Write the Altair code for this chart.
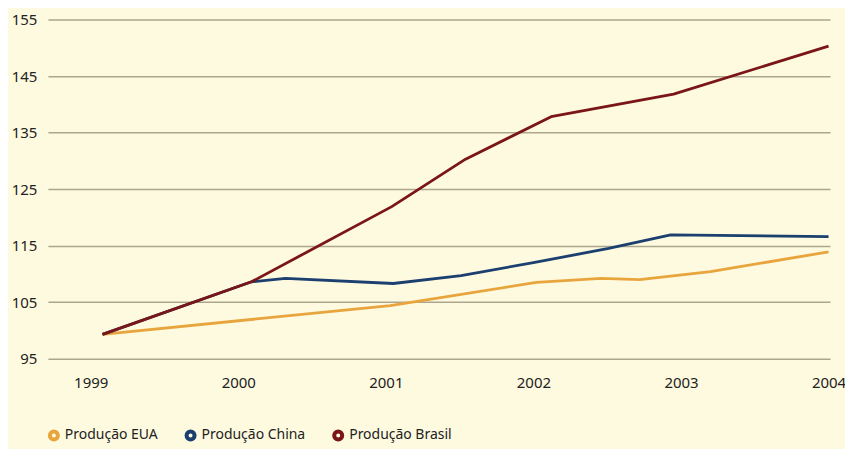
import altair as alt
import pandas as pd

series_names = ["Produção EUA", "Produção China", "Produção Brasil"]
line_colors = ["#E8A53E", "#1B3F6F", "#7A1518"]

eua_t = [1999.08, 2001.03, 2002.02, 2002.46, 2002.72, 2003.20, 2004.0]
eua_v = [99.3, 104.4, 108.5, 109.2, 109.0, 110.4, 113.9]

china_t = [1999.08, 2000.09, 2000.32, 2001.05, 2001.51, 2002.00, 2002.51, 2002.93, 2004.0]
china_v = [99.3, 108.6, 109.2, 108.3, 109.7, 112.0, 114.5, 116.9, 116.6]

brasil_t = [1999.08, 2000.09, 2001.04, 2001.54, 2002.12, 2002.95, 2004.0]
brasil_v = [99.3, 108.6, 121.9, 130.3, 137.8, 141.8, 150.3]

year_ticks = [1999, 2000, 2001, 2002, 2003, 2004]
y_ticks = [95, 105, 115, 125, 135, 145, 155]

rows = []
for name, ts, vs in [(series_names[0], eua_t, eua_v),
                     (series_names[1], china_t, china_v),
                     (series_names[2], brasil_t, brasil_v)]:
    for t, v in zip(ts, vs):
        rows.append({"serie": name, "t": t, "v": v})
df = pd.DataFrame(rows)

FONT = "Noto Sans"

chart = alt.Chart(df).mark_line(strokeWidth=2.8, strokeJoin="round").encode(
    x=alt.X("t:Q", scale=alt.Scale(domain=[1998.71, 2004.01], nice=False, zero=False),
            axis=alt.Axis(values=year_ticks, format="d", title=None, domain=False, ticks=False,
                          grid=False, labelFont=FONT, labelFontSize=15, labelColor="#222222",
                          labelPadding=17, labelFlush=False, labelOverlap=False, labelBound=False)),
    y=alt.Y("v:Q", scale=alt.Scale(domain=[95, 155], nice=False, zero=False),
            axis=alt.Axis(values=y_ticks, title=None, domain=False, ticks=False,
                          grid=True, gridColor="#aca68e", gridWidth=1.5,
                          labelFont=FONT, labelFontSize=15, labelColor="#222222",
                          labelPadding=11)),
    color=alt.Color("serie:N", scale=alt.Scale(domain=series_names, range=line_colors),
                    legend=alt.Legend(title=None, orient="none", direction="horizontal",
                                      legendX=-1, legendY=410, symbolType="circle", symbolSize=64,
                                      symbolStrokeWidth=4, symbolOpacity=1,
                                      labelFont=FONT, labelFontSize=14, labelColor="#222222",
                                      columnPadding=20, labelOffset=4)),
).properties(
    width=784, height=340,
    autosize=alt.AutoSizeParams(type="none"),
    padding={"left": 40, "top": 11, "right": 15, "bottom": 90},
    background="#FEFADF",
).configure_view(stroke=None)

chart.save("out.html", embed_options={"renderer": "svg", "actions": False})
